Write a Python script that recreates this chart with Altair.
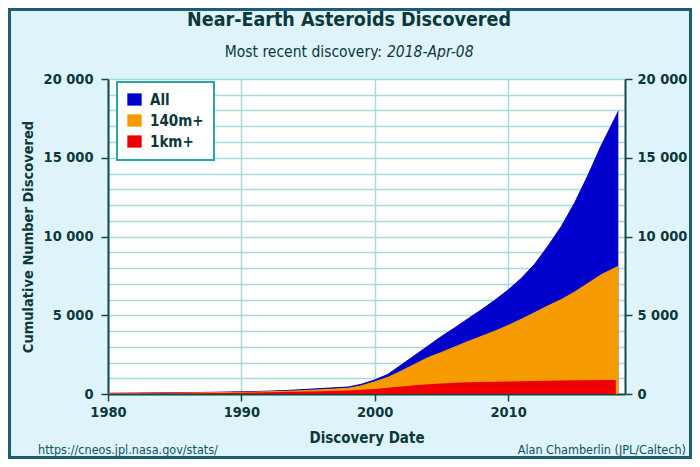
import altair as alt
import pandas as pd

# ---- data ----
years = [1980, 1982, 1984, 1986, 1988, 1990, 1992, 1994, 1996, 1998, 1999, 2000,
         2001, 2002, 2003, 2004, 2005, 2006, 2007, 2008, 2009, 2010, 2011, 2012,
         2013, 2014, 2015, 2016, 2017, 2018.27]
all_neas = [45, 60, 75, 90, 110, 140, 180, 250, 350, 440, 620, 890,
            1250, 1850, 2450, 3050, 3650, 4200, 4780, 5350, 5950, 6600, 7350, 8250,
            9400, 10650, 12150, 13900, 15800, 17950]
neas_140m = [35, 45, 55, 70, 85, 110, 140, 190, 270, 360, 520, 770,
             1060, 1460, 1890, 2310, 2640, 2990, 3330, 3660, 3990, 4350, 4750, 5170,
             5600, 6000, 6480, 7030, 7580, 8110]
years_1km = years[:-1] + [2018.08]
neas_1km = [25, 30, 40, 50, 65, 85, 105, 135, 170, 215, 265, 320,
            400, 480, 560, 620, 670, 710, 740, 765, 785, 800, 815, 830,
            845, 860, 870, 880, 890, 895]

series_names = ["All", "140m+", "1km+"]
series_colors = ["#0000cc", "#f59b00", "#ee0000"]
x_ticks = [1980, 1990, 2000, 2010]
y_grid = list(range(0, 20001, 1000))
y_labels = list(range(0, 20001, 5000))

title_text = ["Near-Earth Asteroids Discovered"]
subtitle_a = ["Most recent discovery:"]
subtitle_b = ["2018-Apr-08"]
footer_left = ["https://cneos.jpl.nasa.gov/stats/"]
footer_right = ["Alan Chamberlin (JPL/Caltech)"]

FONT = "DejaVu Sans Condensed, Liberation Sans Narrow, Roboto, sans-serif"
DARK = "#0b3838"
AXIS = "#0f4a4a"
GRID = "#a3dcdc"

df_all = pd.DataFrame({"year": years, "n": all_neas, "series": series_names[0]})
df_140 = pd.DataFrame({"year": years, "n": neas_140m, "series": series_names[1]})
df_1km = pd.DataFrame({"year": years_1km, "n": neas_1km, "series": series_names[2]})

W, H = 517, 315

color_scale = alt.Scale(domain=series_names, range=series_colors)
legend = alt.Legend(
    title=None, orient="none", legendX=9, legendY=3, direction="vertical",
    fillColor="white", strokeColor="#2aa6a6", padding=10,
    labelFont=FONT, labelFontSize=15, labelFontWeight="bold", labelColor=DARK,
    symbolType="M-1,-0.85H1V0.85H-1Z", symbolSize=190, symbolStrokeWidth=0.5,
    symbolStrokeColor="#333333", labelOffset=8, symbolOpacity=1,
)
xscale = alt.Scale(domain=[1980, 2018.77], nice=False, zero=False)
yscale = alt.Scale(domain=[0, 20000], nice=False)

fmt = "replace(format(datum.value, ','), ',', ' ')"

x_axis = alt.Axis(
    values=x_ticks, format="d", grid=True, gridColor=GRID, gridWidth=1.5,
    domainColor=AXIS, domainWidth=2, tickColor=AXIS, tickWidth=1.5, tickSize=7,
    labelFont=FONT, labelFontSize=14.5, labelFontWeight="bold", labelColor=DARK,
    labelPadding=4, labelFlush=False, title="Discovery Date", titleFont=FONT,
    titleFontSize=15, titleFontWeight="bold", titleColor=DARK, titlePadding=12,
)
y_left = alt.Axis(
    values=y_grid, grid=True, gridColor=GRID, gridWidth=1.5,
    labelExpr="datum.value % 5000 === 0 ? " + fmt + " : ''",
    tickOpacity={"condition": {"test": "datum.value % 5000 === 0", "value": 1}, "value": 0},
    domainColor=AXIS, domainWidth=2, tickColor=AXIS, tickWidth=1.5, tickSize=7,
    labelFont=FONT, labelFontSize=14.5, labelFontWeight="bold", labelColor=DARK,
    labelPadding=8, labelFlush=False, title="Cumulative Number Discovered", titleFont=FONT,
    titleFontSize=14.5, titleFontWeight="bold", titleColor=DARK, titlePadding=8,
)
y_right = alt.Axis(
    orient="right", values=y_labels, grid=False, labelExpr=fmt,
    domainColor=AXIS, domainWidth=2, tickColor=AXIS, tickWidth=1.5, tickSize=7,
    labelFont=FONT, labelFontSize=14.5, labelFontWeight="bold", labelColor=DARK,
    labelPadding=5, labelFlush=False, title=None,
)

color_enc = alt.Color("series:N", scale=color_scale, legend=legend)
x_enc = alt.X("year:Q", scale=xscale, axis=x_axis)

area_all = alt.Chart(df_all).mark_area(
    opacity=1, line={"color": "#00005a", "strokeWidth": 1}
).encode(
    x=x_enc,
    y=alt.Y("n:Q", scale=yscale, axis=y_left),
    color=color_enc,
)
area_140 = alt.Chart(df_140).mark_area(
    opacity=1, line={"color": "#1a1a50", "strokeWidth": 1}
).encode(
    x=x_enc,
    y=alt.Y("n:Q", scale=yscale, axis=None),
    color=color_enc,
)
area_1km = alt.Chart(df_1km).mark_area(opacity=1).encode(
    x=x_enc,
    y=alt.Y("n:Q", scale=yscale, axis=y_right),
    color=color_enc,
)

def label(texts, x, y, size, weight="normal", style="normal", align="center", color=DARK):
    return alt.Chart(pd.DataFrame({"t": texts})).mark_text(
        font=FONT, fontSize=size, fontWeight=weight, fontStyle=style,
        align=align, baseline="middle", color=color,
    ).encode(text="t:N", x=alt.value(x), y=alt.value(y))

title = label(title_text, 241, -59, 19.5, weight="bold")
sub_a = label(subtitle_a, 274, -27, 15.5, align="right")
sub_b = label(subtitle_b, 279, -27, 15.5, style="italic", align="left")
foot_l = label(footer_left, -70, 371, 12.5, align="left", color="#0b5560")
foot_r = label(footer_right, 578, 371, 12.5, align="right", color="#0b5560")

frame = alt.Chart(pd.DataFrame({"t": [0]})).mark_rect(
    fillOpacity=0, stroke="#1d5f70", strokeWidth=3
).encode(x=alt.value(-98.5), x2=alt.value(582.5), y=alt.value(-69.5), y2=alt.value(378.5))

chart = alt.layer(
    area_all, area_140, area_1km, title, sub_a, sub_b, foot_l, foot_r, frame
).resolve_axis(y="independent").properties(
    width=W, height=H,
    autosize=alt.AutoSizeParams(type="none"),
    padding={"left": 100, "top": 71, "right": 67, "bottom": 65},
    background="#dff3fa",
).configure_view(fill="white", stroke=None).configure_legend(
    strokeWidth=2, rowPadding=5
)

chart.save("out.html", embed_options={"renderer": "svg", "actions": False})
